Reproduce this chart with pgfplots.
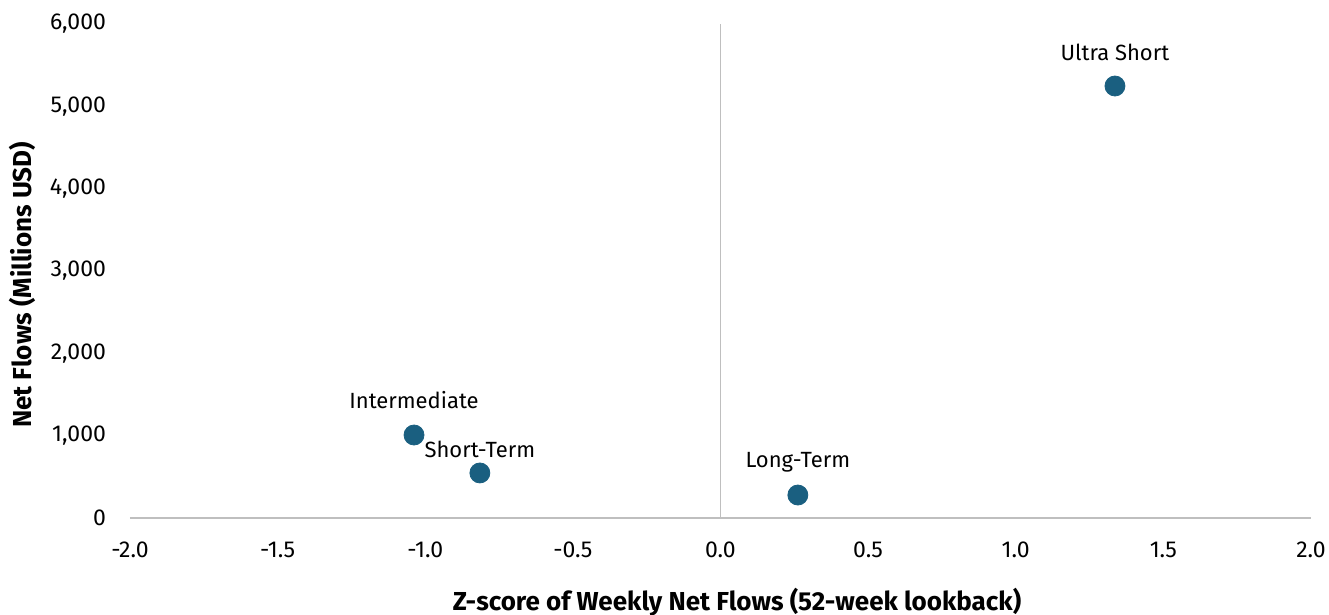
\documentclass[border=0pt]{standalone}
\usepackage{fontspec}
\setmainfont{Fira Sans}
\usepackage{pgfplots}
\usepackage{pgfplotstable}
\pgfplotsset{compat=1.18}
\definecolor{dot}{RGB}{26,95,128}
\definecolor{axgray}{RGB}{191,191,191}
\pgfplotstableread{
x y label yoff
1.336 5247 {Ultra Short} 17
-1.038 1008 {Intermediate} 17.5
-0.815 547 {Short-Term} 12
0.262 279 {Long-Term} 16.5
}\pts
\begin{document}
\fontsize{11.5pt}{13pt}\selectfont
\begin{tikzpicture}
\path[use as bounding box] (-65pt,-48.5pt) rectangle (599.5pt,259pt);
\begin{axis}[
  at={(0,0)}, anchor=south west,
  scale only axis, width=590.5pt, height=247pt,
  xmin=-2, xmax=2, ymin=0, ymax=6000,
  axis x line*=bottom, axis y line*=left,
  x axis line style={draw=axgray, line width=0.9pt, -},
  y axis line style={draw=none, -},
  major tick length=0pt,
  xtick={-2,-1.5,...,2},
  ytick={0,1000,...,6000},
  /pgf/number format/assume math mode=true,
  xticklabel style={/pgf/number format/fixed, /pgf/number format/fixed zerofill, /pgf/number format/precision=1, yshift=-8pt},
  yticklabel style={/pgf/number format/1000 sep={,}, xshift=-8pt},
  scaled ticks=false,
  xlabel={\bfseries Z-score of Weekly Net Flows (52-week lookback)},
  ylabel={\bfseries Net Flows (Millions USD)},
  xlabel style={at={(axis description cs:0.514,0)}, anchor=center, yshift=-42pt},
  ylabel style={at={(axis description cs:-0.0914,0.472)}, anchor=center},
  clip=false,
  tick label style={font=\fontsize{11.5pt}{13pt}\selectfont},
  label style={font=\fontsize{13pt}{15pt}\selectfont},
]
\addplot[axgray, line width=0.9pt, no marks, forget plot] coordinates {(0,0) (0,6000)};
\addplot[only marks, mark=*, mark size=5pt, mark options={draw=dot, fill=dot},
  nodes near coords={\pgfplotspointmeta},
  point meta=explicit symbolic,
  visualization depends on={\thisrow{yoff}\as\yoff},
  every node near coord/.append style={anchor=center, yshift=\yoff pt, text=black, font=\fontsize{11pt}{13pt}\selectfont},
] table[x=x, y=y, meta=label] {\pts};
\end{axis}
\end{tikzpicture}
\end{document}
